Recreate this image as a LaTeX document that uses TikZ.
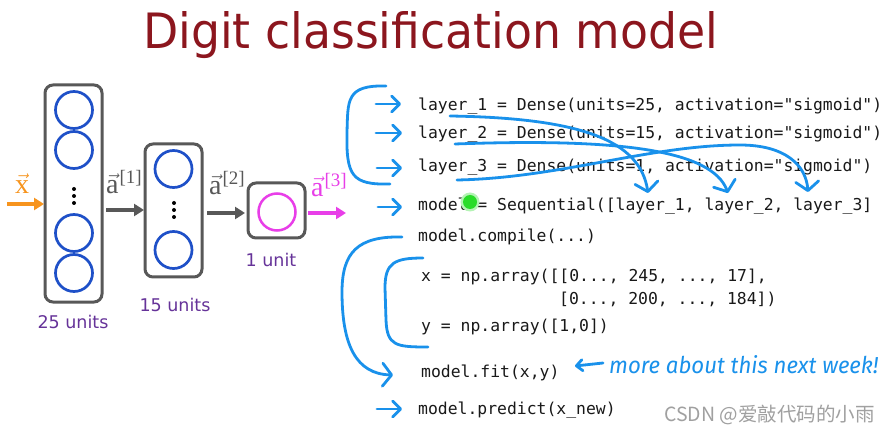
\documentclass[tikz,border=0pt]{standalone}
\usepackage{fontspec}
\usepackage{graphicx}
\usetikzlibrary{arrows.meta}
\setmainfont{DejaVu Sans}
\setmonofont{DejaVu Sans Mono}
\newfontfamily\labelfont{Liberation Serif}
\newfontfamily\handfont{Fira Sans}
\newfontfamily\cjkfont{Noto Sans CJK SC}
\definecolor{titlered}{RGB}{140,22,30}
\definecolor{netgray}{RGB}{88,88,88}
\definecolor{circblue}{RGB}{30,80,200}
\definecolor{mag}{RGB}{232,62,232}
\definecolor{inorange}{RGB}{247,148,29}
\definecolor{unitpurple}{RGB}{102,51,153}
\definecolor{handblue}{RGB}{25,145,235}
\definecolor{dotgreen}{RGB}{40,220,40}
\frenchspacing
\tikzset{
  layerbox/.style={draw=netgray, line width=3pt, rounded corners=8pt, minimum width=57pt, inner sep=0pt},
  unitcirc/.style={circle, draw=circblue, line width=2.7pt, minimum size=37pt, inner sep=0pt},
  outcirc/.style={circle, draw=mag, line width=2.5pt, minimum size=37pt, inner sep=0pt},
  vdot/.style={circle, fill=black, minimum size=4pt, inner sep=0pt},
  unitlabel/.style={text=unitpurple, font=\fontsize{17.5}{20}\selectfont, inner sep=0pt},
  veclabel/.style={font=\labelfont\fontsize{28}{30}\selectfont, inner sep=0pt},
  grayarrow/.style={draw=netgray, line width=4pt, -{Triangle[length=10pt,width=12pt]}},
  orarrow/.style={draw=inorange, line width=4pt, -{Triangle[length=10pt,width=12pt]}},
  magarrow/.style={draw=mag, line width=4pt, -{Triangle[length=10pt,width=12pt]}},
  code/.style={font=\ttfamily\fontsize{16.4}{19}\selectfont, anchor=base west, inner sep=0pt, text={rgb,255:red,25;green,25;blue,25}},
  hand/.style={draw=handblue, line width=2.8pt, line cap=round, line join=round},
  smallarr/.style={hand, -{Straight Barb[length=8pt,width=16pt,round]}},
  bigarr/.style={hand, -{Straight Barb[length=9pt,width=23pt,round]}},
}
\newcommand{\supbr}[1]{\hspace{1pt}\raisebox{10pt}{\fontsize{19}{20}\selectfont[#1]}}
\begin{document}
\begin{tikzpicture}[x=1pt,y=-1pt]
\useasboundingbox (0,0) rectangle (893,435);
\fill[white] (0,0) rectangle (893,435);

% title
\node[anchor=base west, inner sep=0pt, text=titlered] (title) at (143,49)
  {\resizebox{575pt}{37pt}{Digit classification model}};

% network
\node[layerbox, minimum height=217pt] (b1) at (73.5,193.5) {};
\node[layerbox, minimum height=133pt] (b2) at (173.5,210.5) {};
\node[layerbox, minimum height=55pt] (b3) at (276.5,210.5) {};

\node[unitcirc] (c11) at (74,110) {};
\node[unitcirc] (c12) at (74,150) {};
\node[unitcirc] (c13) at (74,233) {};
\node[unitcirc] (c14) at (74,273) {};
\node[vdot] (d11) at (74,189) {};
\node[vdot] (d12) at (74,196) {};
\node[vdot] (d13) at (74,203) {};

\node[unitcirc] (c21) at (173.5,169) {};
\node[unitcirc] (c22) at (173.5,250) {};
\node[vdot] (d21) at (174,203) {};
\node[vdot] (d22) at (174,210) {};
\node[vdot] (d23) at (174,217) {};

\node[outcirc] (c31) at (277,212) {};

\node[unitlabel] (u1) at (73,322) {25 units};
\node[unitlabel] (u2) at (175,305) {15 units};
\node[unitlabel] (u3) at (271,260) {1 unit};

\coordinate (xs) at (7,204);   \coordinate (xe) at (44,204);
\coordinate (a1s) at (106,210); \coordinate (a1e) at (144,210);
\coordinate (a2s) at (207,213); \coordinate (a2e) at (245,213);
\coordinate (a3s) at (308,213); \coordinate (a3e) at (346,213);
\draw[orarrow] (xs) -- (xe);
\draw[grayarrow] (a1s) -- (a1e);
\draw[grayarrow] (a2s) -- (a2e);
\draw[magarrow] (a3s) -- (a3e);

\node[veclabel, text=inorange] (lx) at (22,184) {$\vec{\hbox{x}}$};
\node[veclabel, text=netgray] (la1) at (124,182) {$\vec{\hbox{a}}$\supbr{1}};
\node[veclabel, text=netgray] (la2) at (227,183) {$\vec{\hbox{a}}$\supbr{2}};
\node[veclabel, text=mag] (la3) at (329,185) {$\vec{\hbox{a}}$\supbr{3}};

% code
\node[code] (l1) at (418,111) {layer\_1 = Dense(units=25, activation="sigmoid")};
\node[code] (l2) at (418,139) {layer\_2 = Dense(units=15, activation="sigmoid")};
\node[code] (l3) at (418,172) {layer\_3 = Dense(units=1, activation="sigmoid")};
\node[code] (l4) at (418,211) {model = Sequential([layer\_1, layer\_2, layer\_3]};
\node[code] (l5) at (418,242) {model.compile(...)};
\node[code] (l6) at (421,282) {x = np.array([[0..., 245, ..., 17],};
\node[code] (l7) at (559,304) {[0..., 200, ..., 184])};
\node[code] (l8) at (421,331) {y = np.array([1,0])};
\node[code] (l9) at (421,377) {model.fit(x,y)};
\node[code] (l10) at (418,414) {model.predict(x\_new)};

% green pointer dot
\node[circle, fill=dotgreen!35, minimum size=19pt, inner sep=0pt] (gglow) at (470,202) {};
\node[circle, fill=dotgreen, minimum size=14pt, inner sep=0pt] (gdot) at (470,202) {};

% small hand arrows
\coordinate (s1a) at (376,104); \coordinate (s1b) at (401,104);
\coordinate (s2a) at (376,133); \coordinate (s2b) at (402,133);
\coordinate (s3a) at (377,168); \coordinate (s3b) at (402,168);
\coordinate (s4a) at (378,207); \coordinate (s4b) at (402,207);
\coordinate (s5a) at (377,409); \coordinate (s5b) at (402,409);
\draw[smallarr] (s1a) -- (s1b);
\draw[smallarr] (s2a) -- (s2b);
\draw[smallarr] (s3a) -- (s3b);
\draw[smallarr] (s4a) -- (s4b);
\draw[smallarr] (s5a) -- (s5b);

% brackets
\coordinate (br1a) at (386,86); \coordinate (br1b) at (390,184);
\draw[hand] (br1a) .. controls (346,85) and (348,100) .. (347,132)
  .. controls (346,176) and (352,185) .. (br1b);
\coordinate (br2a) at (402,237); \coordinate (br2b) at (393,375);
\draw[bigarr] (br2a) .. controls (358,236) and (342,252) .. (342,292)
  .. controls (342,345) and (356,374) .. (br2b);
\coordinate (br3a) at (423,258); \coordinate (br3b) at (428,347);
\draw[hand] (br3a) .. controls (394,258) and (385,263) .. (385,288)
  -- (386,320) .. controls (387,346) and (396,347) .. (br3b);

% curved arrows layer -> Sequential
\coordinate (k1a) at (450,116); \coordinate (k1b) at (648,193);
\coordinate (k2a) at (455,144); \coordinate (k2b) at (728,193);
\coordinate (k3a) at (457,180); \coordinate (k3b) at (808,192);
\draw[bigarr] (k1a) .. controls (580,118) and (640,140) .. (k1b);
\draw[bigarr] (k2a) .. controls (620,138) and (712,150) .. (k2b);
\draw[bigarr] (k3a) .. controls (560,178) and (650,145) .. (740,145)
  .. controls (785,145) and (806,165) .. (k3b);

% note
\coordinate (na) at (603,363); \coordinate (nb) at (575,366);
\draw[hand, -{Straight Barb[length=6pt,width=11pt,round]}] (na) -- (nb);
\node[anchor=base west, inner sep=0pt, text=handblue] (note) at (609,373)
  {\resizebox{269pt}{18pt}{\handfont\itshape more about this next week!}};

% watermark
\node[anchor=west, inner sep=0pt, text={rgb,255:red,160;green,160;blue,160}] (wm) at (664,415)
  {\cjkfont\fontsize{19.5}{22}\selectfont CSDN @爱敲代码的小雨};
\end{tikzpicture}
\end{document}
